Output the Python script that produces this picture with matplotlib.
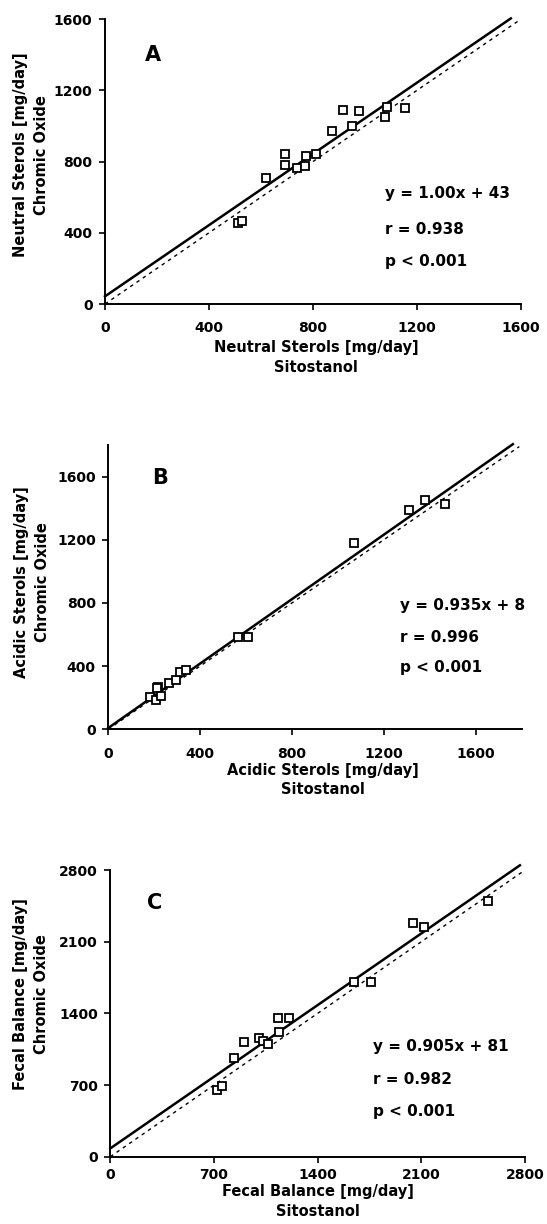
import matplotlib
matplotlib.use("Agg")
import matplotlib.pyplot as plt
import numpy as np

plt.rcParams['font.family'] = ['DejaVu Sans']
plt.rcParams['font.weight'] = 'bold'

# ---- Panel A: Neutral sterols ----
a_x = [513, 526, 618, 694, 694, 738, 771, 774, 812, 875, 917, 951, 979, 1079, 1087, 1155]
a_y = [457, 468, 706, 845, 783, 762, 777, 834, 841, 971, 1090, 1000, 1083, 1051, 1109, 1102]
a_fit = (1.0, 43)          # line as drawn
a_fit_xmax = 1562
a_id_xmax = 1595
a_ticks = [0, 400, 800, 1200, 1600]
a_lim = (1600, 1600)
a_text = ["y = 1.00x + 43", "r = 0.938", "p < 0.001"]

# ---- Panel B: Acidic sterols ----
b_x = [181, 209, 219, 213, 230, 265, 295, 313, 337, 567, 608, 1070, 1309, 1380, 1468]
b_y = [206, 185, 269, 262, 210, 291, 311, 360, 375, 585, 585, 1182, 1386, 1449, 1428]
b_fit = (1.02, 8)
b_fit_xmax = 1762
b_id_xmax = 1790
b_ticks = [0, 400, 800, 1200, 1600]
b_lim = (1800, 1800)
b_text = ["y = 0.935x + 8", "r = 0.996", "p < 0.001"]

# ---- Panel C: Fecal balance ----
c_x = [718, 754, 835, 902, 1004, 1033, 1067, 1139, 1130, 1206, 1645, 1760, 2046, 2118, 2548]
c_y = [647, 686, 964, 1117, 1160, 1127, 1101, 1215, 1352, 1356, 1708, 1705, 2283, 2244, 2502]
c_fit = (1.0, 81)
c_fit_xmax = 2765
c_id_xmax = 2788
c_ticks = [0, 700, 1400, 2100, 2800]
c_lim = (2800, 2800)
c_text = ["y = 0.905x + 81", "r = 0.982", "p < 0.001"]

W, H = 547, 1224
fig = plt.figure(figsize=(W / 100, H / 100), dpi=100)

def pos(left, right, bottom, top):
    return [left / W, 1 - bottom / H, (right - left) / W, (bottom - top) / H]

panels = [
    dict(rect=pos(105, 520.7, 304, 19.3), x=a_x, y=a_y, fit=a_fit, fx=a_fit_xmax, ix=a_id_xmax,
         ticks=a_ticks, lim=a_lim, text=a_text, letter="A", lpos=(0.116, 0.875),
         tpos=(0.674, [0.389, 0.263, 0.149]), xpad=8.5,
         ylab="Neutral Sterols [mg/day]\nChromic Oxide", xlab="Neutral Sterols [mg/day]\nSitostanol",
         ylab_px=(31, 155), xlab_px=(316, 357.5)),
    dict(rect=pos(108.2, 521.6, 729.3, 445), x=b_x, y=b_y, fit=b_fit, fx=b_fit_xmax, ix=b_id_xmax,
         ticks=b_ticks, lim=b_lim, text=b_text, letter="B", lpos=(0.125, 0.884),
         tpos=(0.706, [0.434, 0.324, 0.217]), xpad=8.5,
         ylab="Acidic Sterols [mg/day]\nChromic Oxide", xlab="Acidic Sterols [mg/day]\nSitostanol",
         ylab_px=(32, 582), xlab_px=(323, 780)),
    dict(rect=pos(110.3, 525.1, 1156.7, 870), x=c_x, y=c_y, fit=c_fit, fx=c_fit_xmax, ix=c_id_xmax,
         ticks=c_ticks, lim=c_lim, text=c_text, letter="C", lpos=(0.108, 0.884),
         tpos=(0.633, [0.384, 0.268, 0.157]), xpad=4,
         ylab="Fecal Balance [mg/day]\nChromic Oxide", xlab="Fecal Balance [mg/day]\nSitostanol",
         ylab_px=(31, 994), xlab_px=(318, 1201.5)),
]

for p in panels:
    ax = fig.add_axes(p["rect"])
    xmax, ymax = p["lim"]
    ax.set_xlim(0, xmax)
    ax.set_ylim(0, ymax)
    ax.set_xticks(p["ticks"])
    ax.set_yticks(p["ticks"])
    ax.tick_params(direction="out", length=4, width=1.2, labelsize=10)
    ax.tick_params(axis="y", pad=5)
    ax.tick_params(axis="x", pad=p["xpad"])
    for lab in ax.get_xticklabels() + ax.get_yticklabels():
        lab.set_fontweight("bold")
    ax.spines["top"].set_visible(False)
    ax.spines["right"].set_visible(False)
    ax.spines["left"].set_linewidth(1.4)
    ax.spines["bottom"].set_linewidth(1.4)

    # identity (dashed) line
    ix = np.array([0, p["ix"]])
    ax.plot(ix, ix, color="black", lw=1.0, ls=(0, (2.5, 3)), clip_on=False)
    # regression line
    s, b = p["fit"]
    fx = np.array([0, p["fx"]])
    ax.plot(fx, s * fx + b, color="black", lw=1.8, clip_on=False)
    # points
    ax.plot(p["x"], p["y"], ls="none", marker="s", markersize=5.2, mfc="white",
            mec="black", mew=1.3, zorder=3, clip_on=False)

    ax.text(p["lpos"][0], p["lpos"][1], p["letter"], transform=ax.transAxes,
            fontsize=15, fontweight="bold", ha="center", va="center")
    tx, tys = p["tpos"]
    for t, ty in zip(p["text"], tys):
        ax.text(tx, ty, t, transform=ax.transAxes, fontsize=11, fontweight="bold",
                ha="left", va="center")

    yx, yy = p["ylab_px"]
    fig.text(yx / W, 1 - yy / H, p["ylab"], rotation=90, ha="center", va="center",
             fontsize=10.5, fontweight="bold", linespacing=1.55, multialignment="center")
    xx, xy = p["xlab_px"]
    fig.text(xx / W, 1 - xy / H, p["xlab"], ha="center", va="center",
             fontsize=10.5, fontweight="bold", linespacing=1.4, multialignment="center")

fig.savefig("out.png", dpi=100)
